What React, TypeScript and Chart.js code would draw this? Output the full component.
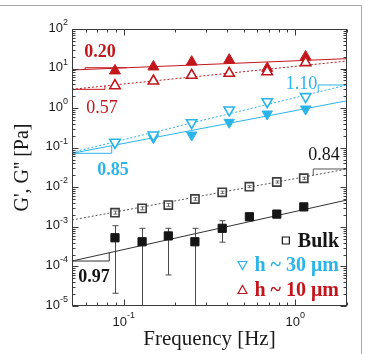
import React, { useEffect, useRef } from 'react';
import { Chart, registerables } from 'chart.js';

Chart.register(...registerables);

// ---------------- DATA ----------------
const freqBulk = [0.089, 0.128, 0.182, 0.26, 0.375, 0.54, 0.78, 1.12];
const bulkGp = [0.00053, 0.00042, 0.00059, 0.00042, 0.00092, 0.0018, 0.0021, 0.0032];
const bulkGpLow = [2.1e-5, 1e-6, 6.1e-5, 1e-6, 0.00041, 0.0015, 0.0018, 0.0028];
const bulkGpHigh = [0.00107, 0.00092, 0.00092, 0.00092, 0.00143, 0.0021, 0.0024, 0.0036];
const bulkGpp = [0.00228, 0.00294, 0.00356, 0.00506, 0.00746, 0.01035, 0.0136, 0.0169];
const bulkGppLow = [0.0021, 0.0027, 0.0033, 0.0047, 0.0070, 0.0098, 0.0128, 0.0158];
const bulkGppHigh = [0.0025, 0.0032, 0.0039, 0.0055, 0.0080, 0.0110, 0.0145, 0.0180];

const freqFilm = [0.089, 0.149, 0.249, 0.412, 0.686, 1.148];
const h30Gp = [0.135, 0.179, 0.209, 0.438, 0.711, 0.95];
const h30Gpp = [0.137, 0.209, 0.428, 0.9, 1.45, 1.95];
const h10Gp = [8.8, 11.1, 14.7, 16.5, 10.2, 19.9];
const h10Gpp = [3.69, 4.85, 6.76, 7.59, 8.34, 14.1];

// power-law fit lines (end points at axis limits)
const fitFreq = [0.05, 2];
const fitH10Gp = [9.2, 17.8];
const fitH10Gpp = [2.99, 15.5];
const fitH30Gp = [0.0722, 1.54];
const fitH30Gpp = [0.0766, 3.85];
const fitBulkGp = [1.37e-4, 0.00477];
const fitBulkGpp = [0.00149, 0.029];

// slope triangles
const triH10GpX = [0.0596, 0.0596, 0.1042];
const triH10GpY = [9.5, 10.5, 10.5];
const triH10GppX = [0.05, 0.0778, 0.0778];
const triH10GppY = [2.99, 2.99, 3.65];
const triH30GpX = [0.05, 0.0852, 0.0852];
const triH30GpY = [0.0722, 0.0722, 0.1124];
const triH30GppX = [1.36, 1.36, 2];
const triH30GppY = [2.54, 3.85, 3.85];
const triBulkGpX = [0.05, 0.0824, 0.0824];
const triBulkGpY = [1.37e-4, 1.37e-4, 2.215e-4];
const triBulkGppX = [1.272, 1.272, 2];
const triBulkGppY = [0.0198, 0.029, 0.029];

const slopeTexts = ['0.20', '0.57', '1.10', '0.85', '0.84', '0.97'];
const legendTexts = ['Bulk', 'h ~ 30 \u03bcm', 'h ~ 10 \u03bcm'];
const yTickExponents = [2, 1, 0, -1, -2, -3, -4, -5];
const xTickExponents = [-1, 0];
const xLimits = [0.05, 2];
const yLimits = [1e-5, 100];

// ---------------- STYLE ----------------
const RED = '#c3161c';
const BLUE = '#2bb4ea';
const BLACK = '#151515';
const GRAY = '#4a4a4a';
const SERIF = '"Liberation Serif", "Times New Roman", serif';
const SANS = '"Liberation Sans", Arial, sans-serif';

const pts = (xs: number[], ys: number[]) => xs.map((x, i) => ({ x, y: ys[i] }));

// annotation anchors in data space
const slopeAnn = [
  { x: 0.0728, y: 19.6, color: RED, bold: true },
  { x: 0.0747, y: 0.754, color: RED, bold: false },
  { x: 1.088, y: 3.05, color: BLUE, bold: false },
  { x: 0.0867, y: 0.0204, color: BLUE, bold: true },
  { x: 1.468, y: 0.0489, color: BLACK, bold: false },
  { x: 0.0672, y: 4.11e-5, color: BLACK, bold: true },
];

const customPlugin = {
  id: 'custom',
  beforeDatasetsDraw(chart: any) {
    const { ctx, chartArea: a, scales } = chart;
    const x = scales.x, y = scales.y;
    ctx.save();
    ctx.beginPath();
    ctx.rect(a.left, a.top, a.right - a.left, a.bottom - a.top);
    ctx.clip();
    const drawErr = (xs: number[], lo: number[], hi: number[], color: string, cap: number) => {
      ctx.strokeStyle = color;
      ctx.lineWidth = 1;
      xs.forEach((fx, i) => {
        const px = Math.round(x.getPixelForValue(fx)) + 0.5;
        const p1 = y.getPixelForValue(lo[i]);
        const p2 = y.getPixelForValue(hi[i]);
        ctx.beginPath();
        ctx.moveTo(px, p1);
        ctx.lineTo(px, p2);
        ctx.moveTo(px - cap, p1);
        ctx.lineTo(px + cap, p1);
        ctx.moveTo(px - cap, p2);
        ctx.lineTo(px + cap, p2);
        ctx.stroke();
      });
    };
    drawErr(freqBulk, bulkGpLow, bulkGpHigh, GRAY, 3);
    ctx.restore();
  },
  afterDatasetsDraw(chart: any) {
    const { ctx, scales } = chart;
    const x = scales.x, y = scales.y;
    // small error bars inside the open squares
    ctx.save();
    ctx.strokeStyle = GRAY;
    ctx.lineWidth = 0.8;
    freqBulk.forEach((fx, i) => {
      const px = Math.round(x.getPixelForValue(fx)) + 0.5;
      const p1 = y.getPixelForValue(bulkGppLow[i]);
      const p2 = y.getPixelForValue(bulkGppHigh[i]);
      ctx.beginPath();
      ctx.moveTo(px, p1); ctx.lineTo(px, p2);
      ctx.moveTo(px - 2, p1); ctx.lineTo(px + 2, p1);
      ctx.moveTo(px - 2, p2); ctx.lineTo(px + 2, p2);
      ctx.stroke();
    });
    ctx.restore();
  },
  afterDraw(chart: any) {
    const { ctx, chartArea: a, scales } = chart;
    const x = scales.x, y = scales.y;
    ctx.save();
    // outer figure frame (partially visible)
    ctx.strokeStyle = '#a8a8a8';
    ctx.lineWidth = 1;
    ctx.beginPath();
    ctx.moveTo(0, 5.5);
    ctx.lineTo(361.5, 5.5);
    ctx.lineTo(361.5, chart.height);
    ctx.stroke();

    // plot box
    ctx.strokeStyle = '#3a3a3a';
    ctx.lineWidth = 1;
    const L = Math.round(a.left) + 0.5, R = Math.round(a.right) - 0.5;
    const T = Math.round(a.top) + 0.5, B = Math.round(a.bottom) - 0.5;
    ctx.strokeRect(L, T, R - L, B - T);

    // inward ticks
    const logTicks = (min: number, max: number) => {
      const out: { v: number; major: boolean }[] = [];
      for (let e = Math.floor(Math.log10(min)); e <= Math.ceil(Math.log10(max)); e++) {
        for (let m = 1; m <= 9; m++) {
          const v = m * Math.pow(10, e);
          if (v >= min * 0.999 && v <= max * 1.001) out.push({ v, major: m === 1 });
        }
      }
      return out;
    };
    ctx.beginPath();
    logTicks(xLimits[0], xLimits[1]).forEach(({ v, major }) => {
      const px = Math.round(x.getPixelForValue(v)) + 0.5;
      const len = major ? 6 : 3;
      ctx.moveTo(px, B); ctx.lineTo(px, B - len);
      ctx.moveTo(px, T); ctx.lineTo(px, T + len);
    });
    logTicks(yLimits[0], yLimits[1]).forEach(({ v, major }) => {
      const py = Math.round(y.getPixelForValue(v)) + 0.5;
      const len = major ? 6 : 3;
      ctx.moveTo(L, py); ctx.lineTo(L + len, py);
      ctx.moveTo(R, py); ctx.lineTo(R - len, py);
    });
    ctx.stroke();

    // tick labels with superscript exponents
    ctx.fillStyle = '#1a1a1a';
    ctx.textBaseline = 'alphabetic';
    ctx.textAlign = 'left';
    const baseFont = '13px ' + SANS;
    const expFont = '9px ' + SANS;
    yTickExponents.forEach((e) => {
      const py = y.getPixelForValue(Math.pow(10, e));
      const es = String(e);
      ctx.font = baseFont;
      const wb = ctx.measureText('10').width;
      ctx.font = expFont;
      const we = ctx.measureText(es).width;
      const right = a.left - 4;
      ctx.font = baseFont;
      ctx.fillText('10', right - we - wb, py + 2.5);
      ctx.font = expFont;
      ctx.fillText(es, right - we, py - 4);
    });
    xTickExponents.forEach((e) => {
      const px = x.getPixelForValue(Math.pow(10, e));
      const es = String(e);
      ctx.font = baseFont;
      const wb = ctx.measureText('10').width;
      ctx.font = expFont;
      const we = ctx.measureText(es).width;
      const left = px - (wb + we) / 2;
      ctx.font = baseFont;
      ctx.fillText('10', left, a.bottom + 20);
      ctx.font = expFont;
      ctx.fillText(es, left + wb, a.bottom + 12);
    });

    // slope labels
    ctx.textAlign = 'center';
    slopeAnn.forEach((s, i) => {
      ctx.font = (s.bold ? 'bold ' : '') + '18px ' + SERIF;
      ctx.fillStyle = s.color;
      ctx.fillText(slopeTexts[i], x.getPixelForValue(s.x), y.getPixelForValue(s.y));
    });

    // legend
    const legColors = [BLACK, BLUE, RED];
    const legRight = a.right - 8;
    const legBase = [a.bottom - 59.5, a.bottom - 35, a.bottom - 10];
    ctx.textAlign = 'right';
    ctx.font = 'bold 20px ' + SERIF;
    legendTexts.forEach((t, i) => {
      ctx.fillStyle = legColors[i];
      ctx.fillText(t, legRight, legBase[i]);
      const w = ctx.measureText(t).width;
      const cx = legRight - w - 12;
      const cy = legBase[i] - 6;
      ctx.strokeStyle = legColors[i];
      ctx.lineWidth = 1.2;
      ctx.beginPath();
      if (i === 0) {
        ctx.rect(cx - 3.5, cy - 3.5, 7, 7);
      } else if (i === 1) {
        ctx.moveTo(cx - 4.5, cy - 3.5);
        ctx.lineTo(cx + 4.5, cy - 3.5);
        ctx.lineTo(cx, cy + 4.5);
        ctx.closePath();
      } else {
        ctx.moveTo(cx - 4.5, cy + 3.5);
        ctx.lineTo(cx + 4.5, cy + 3.5);
        ctx.lineTo(cx, cy - 4.5);
        ctx.closePath();
      }
      ctx.stroke();
    });
    ctx.restore();
  },
};

const lineDs = (xs: number[], ys: number[], color: string, dash: number[] = [], width = 1) => ({
  type: 'scatter' as const,
  data: pts(xs, ys),
  showLine: true,
  borderColor: color,
  borderWidth: width,
  borderDash: dash,
  pointRadius: 0,
  fill: false,
});

const markerDs = (xs: number[], ys: number[], style: string, color: string, filled: boolean, rotation = 0, radius = 6) => ({
  type: 'scatter' as const,
  data: pts(xs, ys),
  showLine: false,
  pointStyle: style,
  rotation,
  pointRadius: radius,
  pointBorderColor: color,
  pointBackgroundColor: filled ? color : '#ffffff',
  pointBorderWidth: filled ? 1 : 1.6,
});

export default function App() {
  const ref = useRef<HTMLCanvasElement | null>(null);
  useEffect(() => {
    if (!ref.current) return;
    const chart = new Chart(ref.current, {
      type: 'scatter',
      data: {
        datasets: [
          // markers (first = drawn on top)
          markerDs(freqBulk, bulkGpp, 'rect', '#3c3c3c', false, 0, 5.8),
          markerDs(freqBulk, bulkGp, 'rect', BLACK, true, 0, 5.8),
          markerDs(freqFilm, h30Gpp, 'triangle', BLUE, false, 180, 6),
          markerDs(freqFilm, h30Gp, 'triangle', BLUE, true, 180, 6),
          markerDs(freqFilm, h10Gpp, 'triangle', RED, false, 0, 6),
          markerDs(freqFilm, h10Gp, 'triangle', RED, true, 0, 6.3),
          // fit lines
          lineDs(fitFreq, fitH10Gp, RED, [], 1),
          lineDs(fitFreq, fitH10Gpp, RED, [2, 2], 1),
          lineDs(fitFreq, fitH30Gp, BLUE, [], 1),
          lineDs(fitFreq, fitH30Gpp, BLUE, [2, 2], 1),
          lineDs(fitFreq, fitBulkGp, '#333333', [], 1),
          lineDs(fitFreq, fitBulkGpp, '#555555', [2, 2], 1),
          // slope triangles
          lineDs(triH10GpX, triH10GpY, RED, [], 1),
          lineDs(triH10GppX, triH10GppY, RED, [], 1),
          lineDs(triH30GpX, triH30GpY, BLUE, [], 1),
          lineDs(triH30GppX, triH30GppY, BLUE, [], 1),
          lineDs(triBulkGpX, triBulkGpY, '#333333', [], 1),
          lineDs(triBulkGppX, triBulkGppY, '#555555', [], 1),
        ],
      },
      options: {
        responsive: false,
        animation: false,
        devicePixelRatio: 1,
        layout: { padding: { top: 29, right: 18, left: 0, bottom: 0 } },
        plugins: { legend: { display: false }, tooltip: { enabled: false } },
        scales: {
          x: {
            type: 'logarithmic',
            min: xLimits[0],
            max: xLimits[1],
            grid: { display: false },
            border: { display: false },
            ticks: { display: false },
            title: {
              display: true,
              text: 'Frequency [Hz]',
              color: '#1a1a1a',
              font: { family: SERIF, size: 21 },
              padding: { top: 0, bottom: 2 },
            },
            afterFit: (s: any) => { s.height = 48; },
          },
          y: {
            type: 'logarithmic',
            min: yLimits[0],
            max: yLimits[1],
            grid: { display: false },
            border: { display: false },
            ticks: { display: false },
            title: {
              display: true,
              text: "G', G'' [Pa]",
              color: '#1a1a1a',
              font: { family: SERIF, size: 20 },
              padding: { top: 11, bottom: 0 },
            },
            afterFit: (s: any) => { s.width = 72; },
          },
        },
      },
      plugins: [customPlugin],
    } as any);
    return () => chart.destroy();
  }, []);
  return (
    <div style={{ position: 'absolute', left: 0, top: 0, width: 365, height: 354, background: '#fff' }}>
      <canvas ref={ref} width={365} height={354} />
    </div>
  );
}
